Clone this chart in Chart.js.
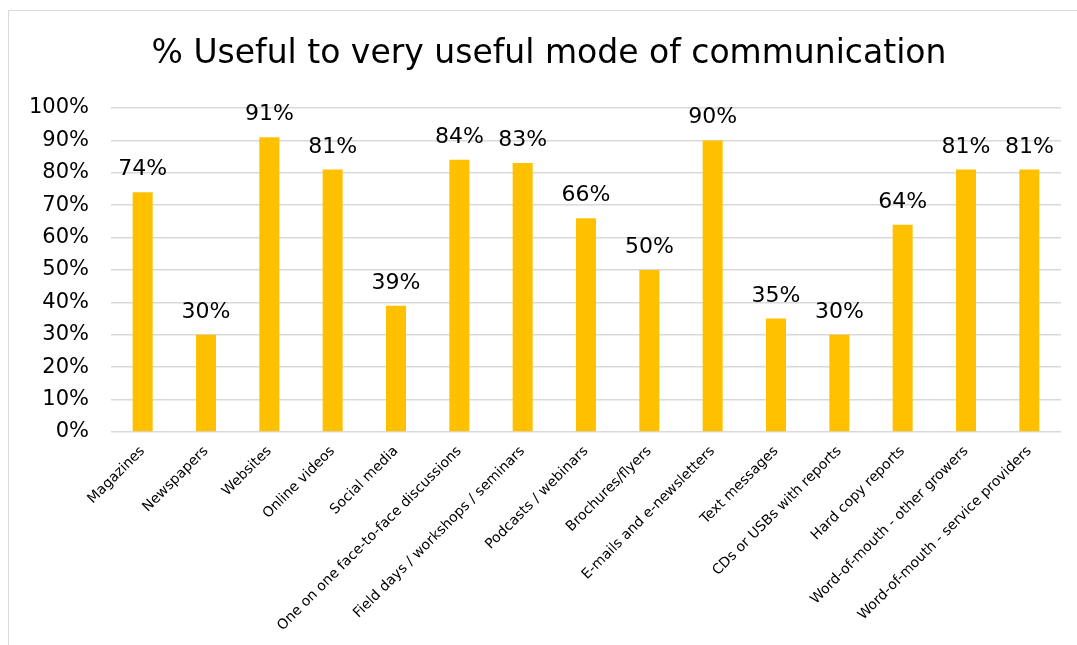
<!DOCTYPE html>
<html>
<head>
<meta charset="utf-8">
<script src="https://cdn.jsdelivr.net/npm/chart.js@4/dist/chart.umd.min.js"></script>
<style>
  html, body { margin: 0; padding: 0; background: #fff; }
  #wrap { position: relative; width: 1077px; height: 645px; overflow: hidden; }
  #frame { position: absolute; left: 8px; top: 10px; width: 1200px; height: 800px; border: 1px solid #d9d9d9; }
  #chart { position: absolute; left: 0; top: 0; }
</style>
</head>
<body>
<div id="wrap">
  <div id="frame"></div>
  <canvas id="chart" width="1077" height="645"></canvas>
</div>
<script>
const categories = [
    "Magazines", "Newspapers", "Websites", "Online videos", "Social media",
    "One on one face-to-face discussions", "Field days / workshops / seminars",
    "Podcasts / webinars", "Brochures/flyers", "E-mails and e-newsletters",
    "Text messages", "CDs or USBs with reports", "Hard copy reports",
    "Word-of-mouth - other growers", "Word-of-mouth - service providers"
];
const usefulPct = [74, 30, 91, 81, 39, 84, 83, 66, 50, 90, 35, 30, 64, 81, 81];
const yTicks = [0, 10, 20, 30, 40, 50, 60, 70, 80, 90, 100];
const chartTitle = "% Useful to very useful mode of communication";

const FONT = "'DejaVu Sans', Verdana, sans-serif";

// value labels above each bar
const barLabels = {
    id: "barLabels",
    afterDatasetsDraw(chart) {
        const ctx = chart.ctx;
        const meta = chart.getDatasetMeta(0);
        ctx.save();
        ctx.font = "22px " + FONT;
        ctx.fillStyle = "#000";
        ctx.textAlign = "center";
        ctx.textBaseline = "alphabetic";
        meta.data.forEach((bar, i) => {
            ctx.fillText(usefulPct[i] + "%", bar.x, bar.y - 17);
        });
        ctx.restore();
    }
};

// title drawn by hand so it can sit centred on the whole frame
const frameTitle = {
    id: "frameTitle",
    afterDraw(chart) {
        const ctx = chart.ctx;
        ctx.save();
        ctx.font = "33px " + FONT;
        ctx.fillStyle = "#000";
        ctx.textAlign = "center";
        ctx.textBaseline = "middle";
        ctx.fillText(chartTitle, 549, 54);
        ctx.restore();
    }
};

const ctx = document.getElementById("chart").getContext("2d");
new Chart(ctx, {
    type: "bar",
    data: {
        labels: categories,
        datasets: [{
            data: usefulPct,
            backgroundColor: "#FFC000",
            barPercentage: 0.316,
            categoryPercentage: 1
        }]
    },
    options: {
        responsive: false,
        animation: false,
        layout: { padding: { left: 0, right: 16, top: 108, bottom: 0 } },
        plugins: {
            legend: { display: false },
            tooltip: { enabled: false },
            title: { display: false }
        },
        scales: {
            x: {
                grid: { display: false },
                border: { display: false },
                ticks: {
                    color: "#000",
                    font: { family: FONT, size: 14 },
                    maxRotation: 45,
                    minRotation: 45,
                    autoSkip: false
                },
                afterFit(scale) { scale.height = 213; }
            },
            y: {
                min: 0,
                max: 100,
                afterBuildTicks(scale) { scale.ticks = yTicks.map(v => ({ value: v })); },
                grid: { color: "#d9d9d9", lineWidth: 1.5, drawTicks: false },
                border: { display: false },
                ticks: {
                    color: "#000",
                    font: { family: FONT, size: 21 },
                    padding: 22,
                    callback: v => v + "%"
                },
                afterFit(scale) { scale.width = 111; }
            }
        }
    },
    plugins: [barLabels, frameTitle]
});
</script>
</body>
</html>
